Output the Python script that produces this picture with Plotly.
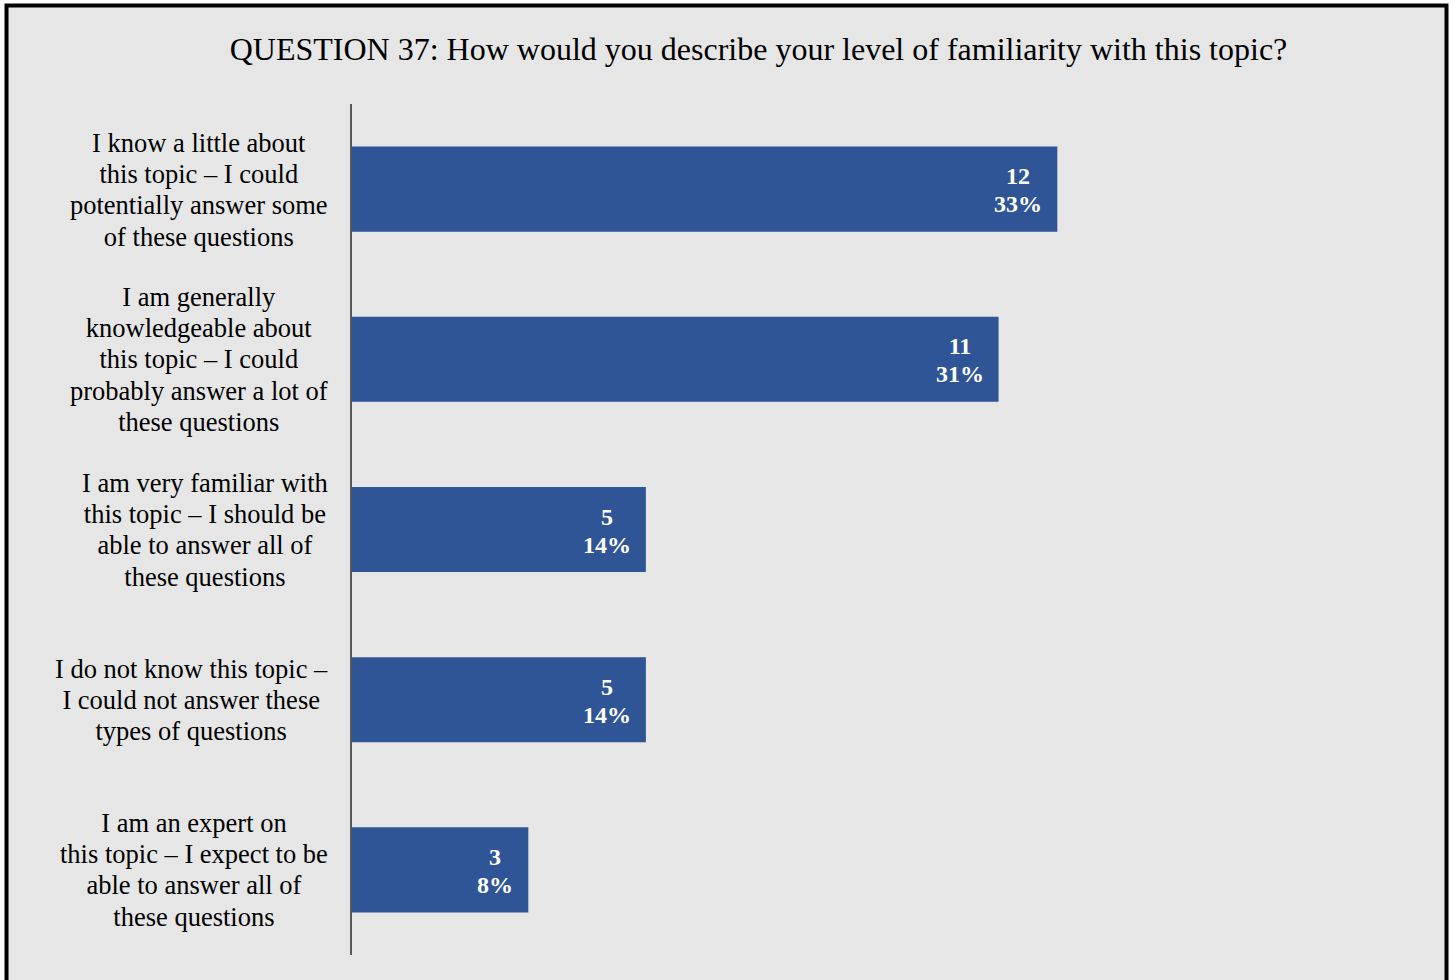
import plotly.graph_objects as go

# Survey responses, top to bottom
categories = [
    "I know a little about<br>this topic – I could<br>potentially answer some<br>of these questions",
    "I am generally<br>knowledgeable about<br>this topic – I could<br>probably answer a lot of<br>these questions",
    "I am very familiar with<br>this topic – I should be<br>able to answer all of<br>these questions",
    "I do not know this topic –<br>I could not answer these<br>types of questions",
    "I am an expert on<br>this topic – I expect to be<br>able to answer all of<br>these questions",
]
counts = [12, 11, 5, 5, 3]
percents = [33, 31, 14, 14, 8]

title_text = "QUESTION 37: How would you describe your level of familiarity with this topic?"

W, H = 1453, 980
L, R, T, B = 352, 43, 104, 25
plot_w = W - L - R
plot_h = H - T - B

SERIF = "Liberation Serif, Times New Roman, serif"
BAR_COLOR = "#2f5597"
BG = "#e6e6e6"


def sized(text, px):
    """Wrap each line in a span so glyph size can differ from line spacing."""
    return "<br>".join(
        f'<span style="font-size:{px}px">{line}</span>' for line in text.split("<br>")
    )


fig = go.Figure(
    go.Bar(
        x=counts,
        y=list(range(len(categories))),
        orientation="h",
        marker=dict(color=BAR_COLOR, line=dict(width=0)),
        hoverinfo="skip",
    )
)

annotations = []
# value labels inside the bar ends
for i, (c, p) in enumerate(zip(counts, percents)):
    annotations.append(dict(
        x=c, y=i, xref="x", yref="y",
        text=sized(f"<b>{c}</b><br><b>{p}%</b>", 24),
        showarrow=False, xanchor="right", yanchor="middle",
        xshift=-13, yshift=-1, align="center",
        font=dict(family=SERIF, size=21.5, color="white"),
    ))
# category labels, centred block to the left of the axis
for i, cat in enumerate(categories):
    annotations.append(dict(
        x=0, y=i, xref="x", yref="y",
        text=sized(cat, 26.5),
        showarrow=False, xanchor="right", yanchor="middle",
        xshift=-22, yshift=-0.5, align="center",
        font=dict(family=SERIF, size=24, color="#000000"),
    ))


def px_to_paper_x(px):
    return (px - L) / plot_w


def px_to_paper_y(py):
    return (H - B - py) / plot_h


fig.update_layout(
    width=W, height=H,
    margin=dict(l=L, r=R, t=T, b=B),
    paper_bgcolor="white",
    plot_bgcolor="rgba(0,0,0,0)",
    showlegend=False,
    bargap=0.5,
    title=dict(
        text=title_text,
        x=758.5 / W, xref="container", xanchor="center",
        y=1 - 49 / H, yref="container", yanchor="middle",
        font=dict(family=SERIF, size=32, color="#000000"),
    ),
    xaxis=dict(
        range=[0, 18], showgrid=False, zeroline=False,
        showticklabels=False, showline=False, ticks="",
    ),
    yaxis=dict(
        range=[len(categories) - 0.5, -0.5],
        showgrid=False, zeroline=False, showticklabels=False, ticks="",
        showline=True, linecolor="#595959", linewidth=2,
    ),
    annotations=annotations,
    shapes=[dict(
        type="rect", xref="paper", yref="paper", layer="below",
        x0=px_to_paper_x(6.5), x1=px_to_paper_x(1446.5),
        y0=px_to_paper_y(995), y1=px_to_paper_y(5.5),
        fillcolor=BG, line=dict(color="#000000", width=4),
    )],
)

fig.write_html("out.html")
